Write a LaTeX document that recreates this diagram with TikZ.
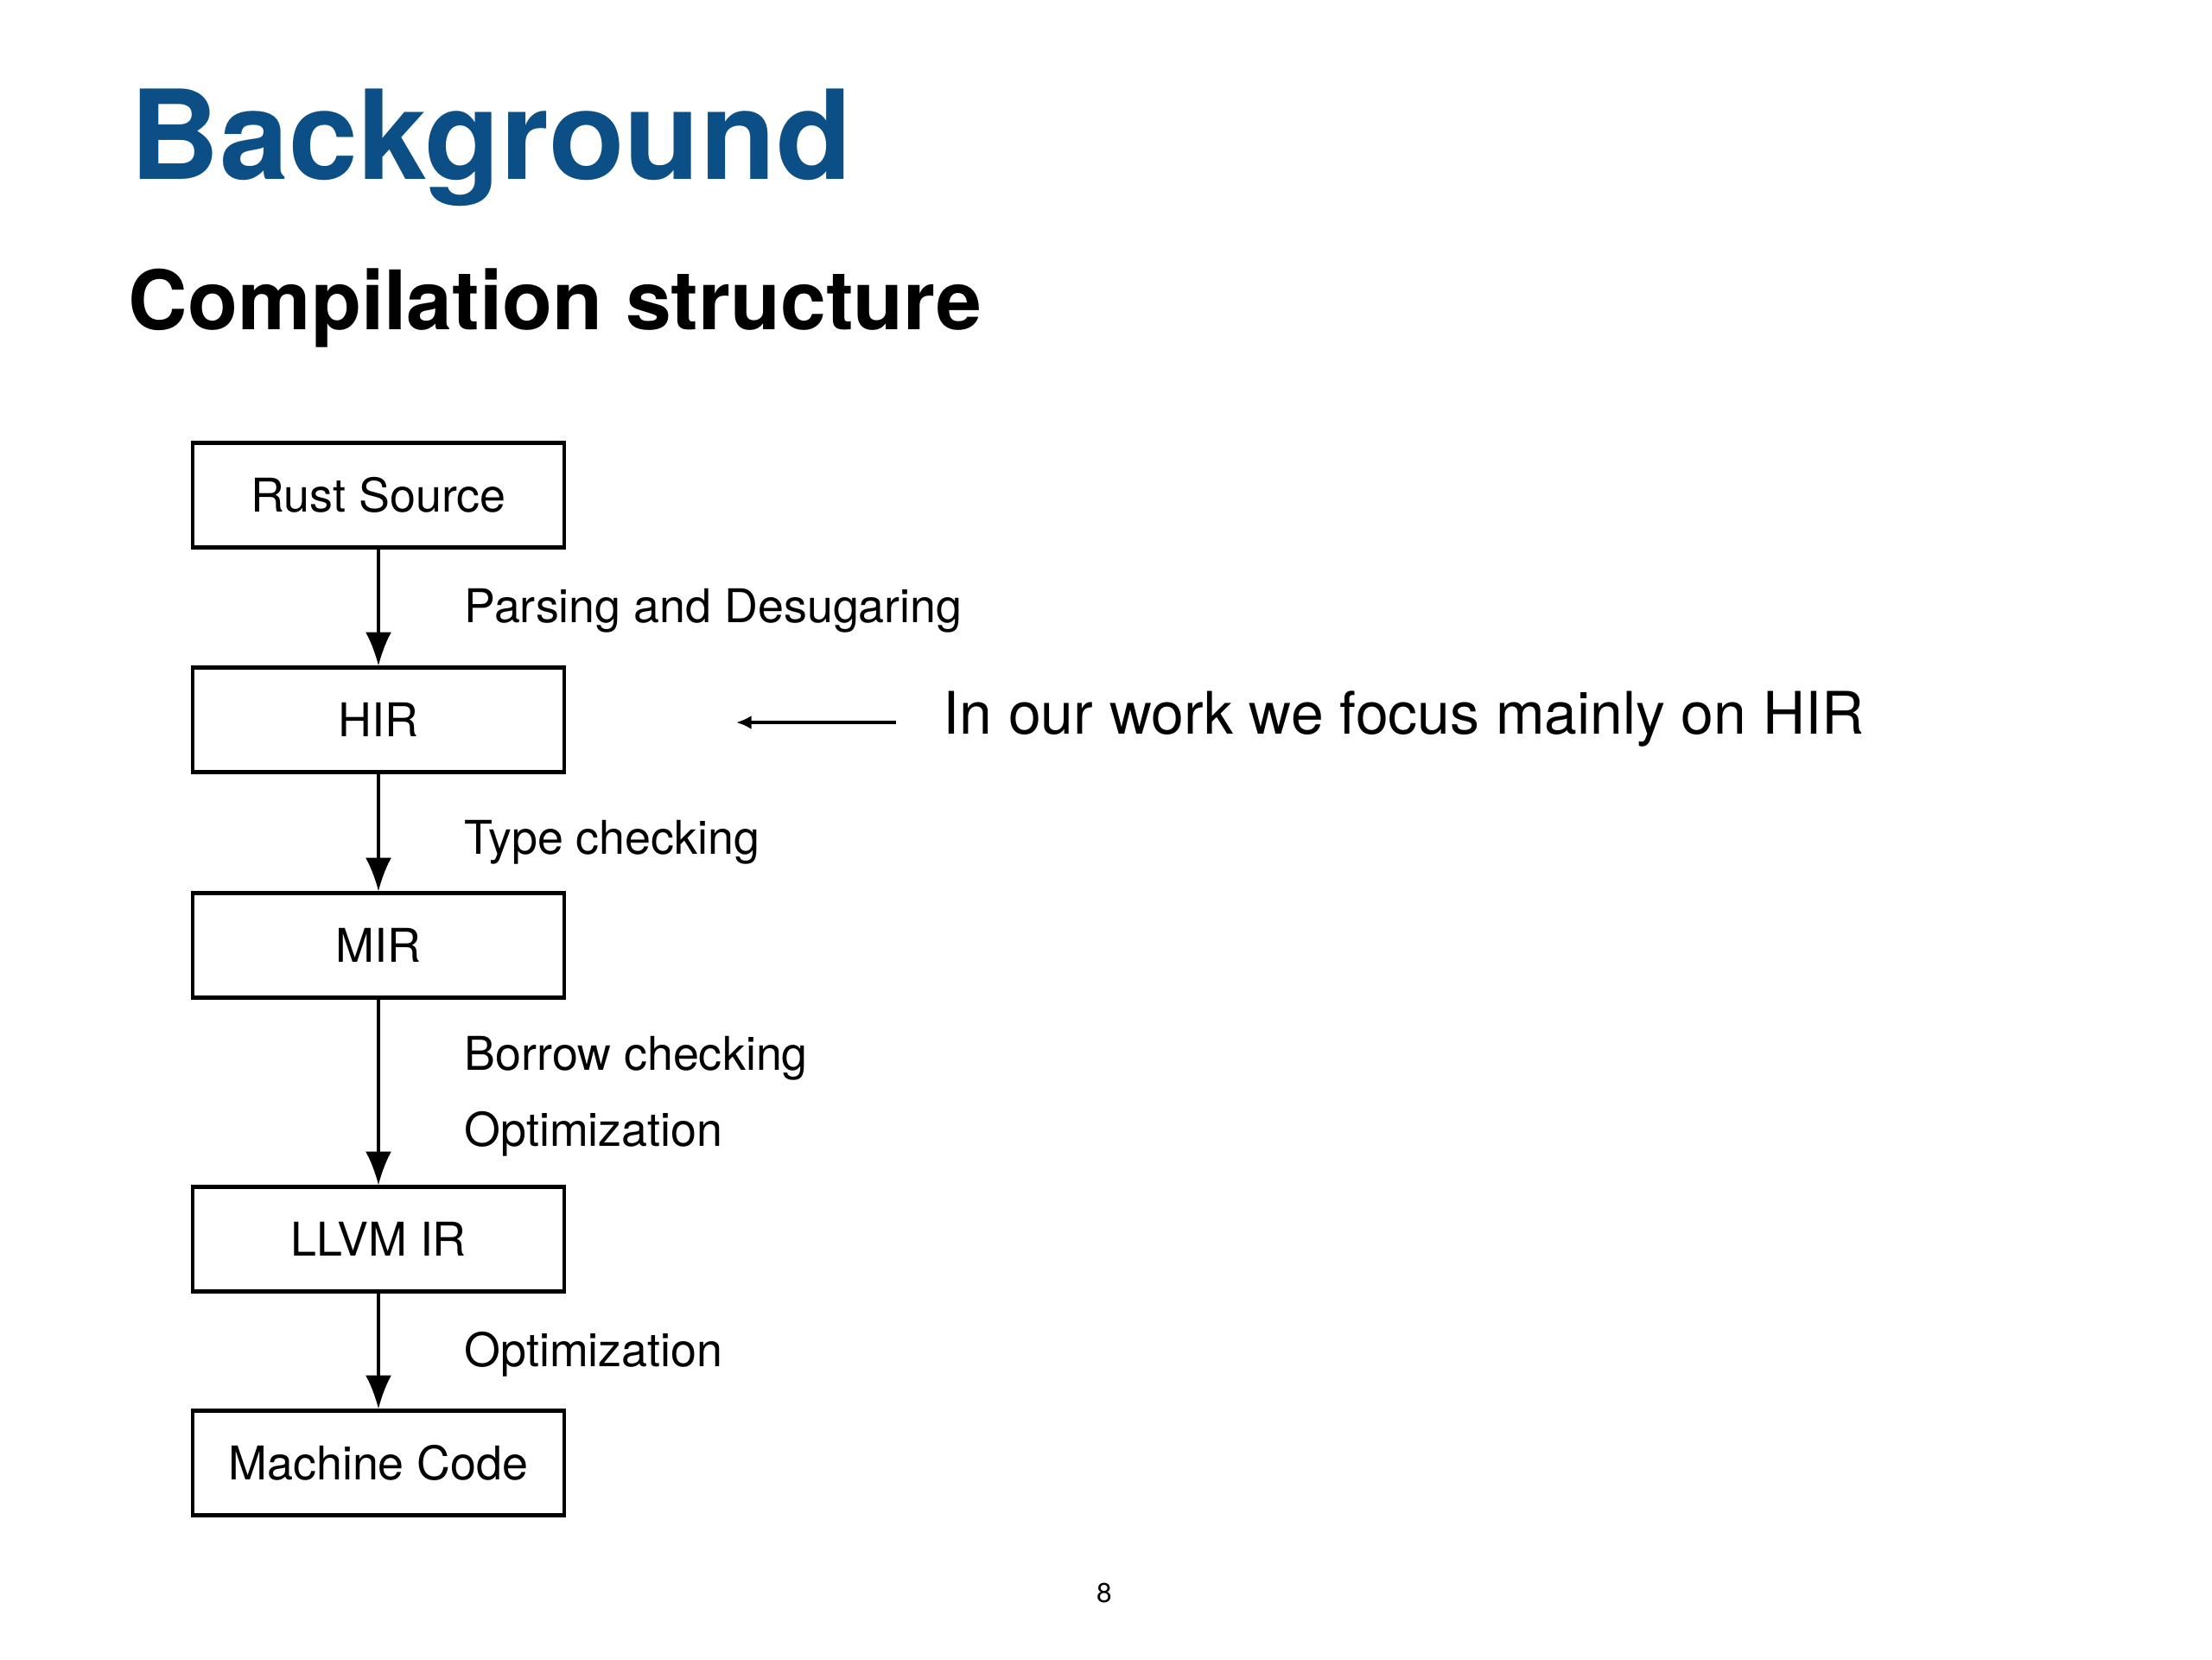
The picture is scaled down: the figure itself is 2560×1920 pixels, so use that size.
\documentclass[tikz,border=0pt]{standalone}
\usepackage{xcolor}
\usepackage{fontspec}
\setmainfont{TeX Gyre Heros}
\usepackage{tikz}
\usetikzlibrary{arrows.meta}
\tikzset{>={Latex[length=11pt,width=8.5pt]}}
\definecolor{titleblue}{RGB}{11,79,134}
\tikzset{stage/.style={draw,line width=1.2pt,minimum width=4.29cm,minimum height=1.21cm,inner sep=0pt,font=\fontsize{15.3}{18}\selectfont}}
\tikzset{pass/.style={anchor=base west,inner sep=0pt,font=\fontsize{15.3}{18}\selectfont}}

\begin{document}
\begin{tikzpicture}[x=0.01cm,y=-0.01cm]
    \useasboundingbox (0,0) rectangle (2560,1920);
    % titles
    \node[anchor=base west,inner sep=0pt,text=titleblue,font=\fontsize{40.8}{48}\selectfont\bfseries] (title) at (150,207) {Background};
    \node[anchor=base west,inner sep=0pt,font=\fontsize{27}{32}\selectfont\bfseries] (subtitle) at (148,381) {Compilation structure};
    % stages
    \node[stage] (rust) at (438,573) {Rust Source};
    \node[stage] (hir) at (438,833) {HIR};
    \node[stage] (mir) at (438,1094) {MIR};
    \node[stage] (llvm) at (438,1434) {LLVM IR};
    \node[stage] (mach) at (438,1693) {Machine Code};
    \draw[->,line width=0.9pt] (rust) -- (hir);
    \draw[->,line width=0.9pt] (hir) -- (mir);
    \draw[->,line width=0.9pt] (mir) -- (llvm);
    \draw[->,line width=0.9pt] (llvm) -- (mach);
    % passes
    \node[pass] (parse) at (537,720) {Parsing and Desugaring};
    \node[pass] (typeck) at (537,988) {Type checking};
    \node[pass] (borrowck) at (537,1238) {Borrow checking};
    \node[pass] (opt) at (537,1326) {Optimization};
    \node[pass] (llvmopt) at (537,1581) {Optimization};
    % note
    \node[anchor=base west,inner sep=0pt,font=\fontsize{19.3}{24}\selectfont] (note) at (1091,849) {In our work we focus mainly on HIR};
    \coordinate (notetail) at (1037,836);
    \coordinate (notehead) at (852,836);
    \draw[-{Latex[length=5pt,width=4.5pt]},line width=1.1pt] (notetail) -- (notehead);
    \node[inner sep=0pt,font=\fontsize{9}{11}\selectfont] (page) at (1278,1843) {8};
\end{tikzpicture}
\end{document}
